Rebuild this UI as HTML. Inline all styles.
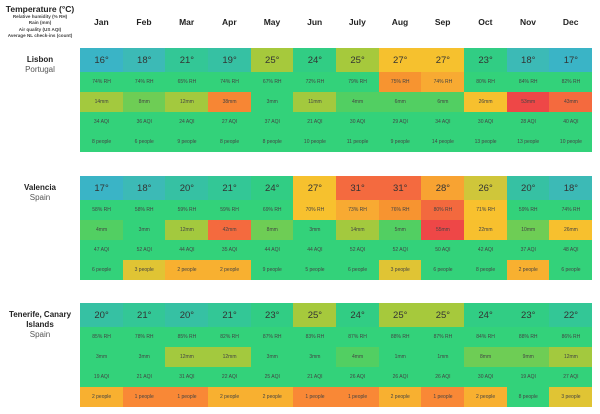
<!DOCTYPE html>
<html><head><meta charset="utf-8">
<style>
body{margin:0;background:#fff;font-family:"Liberation Sans",sans-serif;}
#wrap{position:relative;width:600px;height:414px;overflow:hidden;}
.t{position:absolute;text-align:center;color:#222;}
.cell{position:absolute;display:flex;align-items:center;justify-content:center;color:#444;font-size:5px;box-sizing:border-box;}
.cell.temp{font-size:9.5px;color:#333;}
</style></head><body>
<div id="wrap">
  <div class="t" style="left:0;top:4px;width:80px;font-size:8.5px;font-weight:bold;">Temperature (°C)</div>
  <div class="t" style="left:0;top:14px;width:80px;font-size:4.6px;line-height:6.3px;font-weight:bold;color:#444;">Relative humidity (% RH)<br>Rain (mm)<br>Air quality (US AQI)<br>Average NL check-ins (count)</div>
</div>
<script>
const months=["Jan","Feb","Mar","Apr","May","Jun","July","Aug","Sep","Oct","Nov","Dec"];
const cityNames=["Lisbon","Valencia","Tenerife, Canary Islands"];
const countries=["Portugal","Spain","Spain"];
const lisbonTemp=[16,18,21,19,25,24,25,27,27,23,18,17];
const lisbonRH=[74,74,65,74,67,72,79,75,74,80,84,82];
const lisbonRain=[14,8,12,38,3,11,4,6,6,26,53,43];
const lisbonAQI=[34,36,24,27,37,21,30,29,34,30,28,40];
const lisbonPeople=[8,6,9,8,8,10,11,9,14,13,13,10];
const valenciaTemp=[17,18,20,21,24,27,31,31,28,26,20,18];
const valenciaRH=[58,58,59,59,69,70,73,76,80,71,59,74];
const valenciaRain=[4,3,12,42,8,3,14,5,55,22,10,26];
const valenciaAQI=[47,52,44,35,44,44,52,52,50,42,37,48];
const valenciaPeople=[6,3,2,2,9,5,6,3,6,8,2,6];
const tenerifeTemp=[20,21,20,21,23,25,24,25,25,24,23,22];
const tenerifeRH=[85,78,85,82,87,83,87,88,87,84,88,86];
const tenerifeRain=[3,3,12,12,3,3,4,1,1,8,9,12];
const tenerifeAQI=[19,21,31,22,25,21,26,26,26,30,19,27];
const tenerifePeople=[2,1,1,2,2,1,1,2,1,2,8,3];

const cities=[
 {temp:lisbonTemp,rh:lisbonRH,rain:lisbonRain,aqi:lisbonAQI,ppl:lisbonPeople},
 {temp:valenciaTemp,rh:valenciaRH,rain:valenciaRain,aqi:valenciaAQI,ppl:valenciaPeople},
 {temp:tenerifeTemp,rh:tenerifeRH,rain:tenerifeRain,aqi:tenerifeAQI,ppl:tenerifePeople}];
const blockTops=[48,176,303];
const X0=80,COLW=512/12,TEMPH=24,ROWH=20;
const xScale=i=>X0+i*COLW;
const GREEN="#33d27a";
function tempColor(t){if(t<=17)return"#3ab4c6";if(t<=18)return"#3cbab6";if(t<=20)return"#36c1a3";if(t<=22)return"#33c796";if(t<=24)return"#31cd84";if(t<=25)return"#a6c93c";if(t<=26)return"#cfc63a";if(t<=27)return"#f6c12e";if(t<=29)return"#f8a332";return"#f46a3f";}
function rhColor(rh,t){if(t<26)return GREEN;if(rh<=71)return"#f8c12e";if(rh<=74)return"#f8aa32";if(rh<=77)return"#f79430";return"#f3693e";}
function rainColor(r){if(r<=3)return GREEN;if(r<=6)return"#52cf62";if(r<=10)return"#6ecd55";if(r<=14)return"#a3c93e";if(r<=30)return"#f7c02e";if(r<=40)return"#f78634";if(r<=50)return"#f46a3e";return"#ee4747";}
function aqiColor(a){return a<=60?GREEN:"#a3c93e";}
function pplColor(p){if(p>=5)return GREEN;if(p>=4)return"#a6c93c";if(p>=3)return"#e0c434";if(p>=2)return"#f8b030";return"#f98836";}
const wrap=document.getElementById('wrap');
months.forEach((m,i)=>{
 const d=document.createElement('div');d.className='t';
 
 
 d.style.cssText=`left:${xScale(i)}px;top:17px;width:${COLW}px;font-size:8.5px;font-weight:bold;`;
 d.textContent=m;wrap.appendChild(d);
});
function cell(x,y,w,h,bg,txt,cls){
 const d=document.createElement('div');d.className='cell'+(cls?' '+cls:'');
 
 
 d.style.cssText=`left:${x}px;top:${y}px;width:${w+0.5}px;height:${h}px;background:${bg};`;
 d.textContent=txt;wrap.appendChild(d);
}
cities.forEach((c,ci)=>{
 const top=blockTops[ci];
 const lab=document.createElement('div');lab.className='t';
 
 
 lab.style.cssText=`left:0;top:${top+7}px;width:80px;font-size:8px;line-height:10px;`;
 lab.innerHTML=`<b>${cityNames[ci]}</b><br><span style="color:#555">${countries[ci]}</span>`;
 wrap.appendChild(lab);
 for(let i=0;i<12;i++){
  const x=xScale(i);
  cell(x,top,COLW,TEMPH,tempColor(c.temp[i]),c.temp[i]+'°','temp');
  cell(x,top+TEMPH,COLW,ROWH,rhColor(c.rh[i],c.temp[i]),c.rh[i]+'% RH');
  cell(x,top+TEMPH+ROWH,COLW,ROWH,rainColor(c.rain[i]),c.rain[i]+'mm');
  cell(x,top+TEMPH+2*ROWH,COLW,ROWH,aqiColor(c.aqi[i]),c.aqi[i]+' AQI');
  cell(x,top+TEMPH+3*ROWH,COLW,ROWH,pplColor(c.ppl[i]),c.ppl[i]+' people');
 }
});
</script>
</body></html>
